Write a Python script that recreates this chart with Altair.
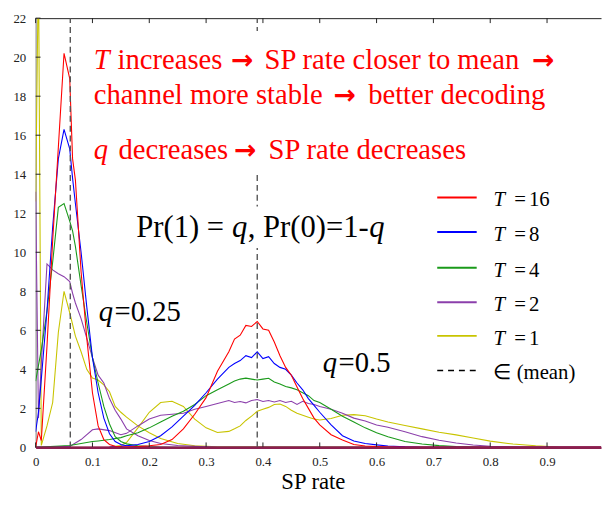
import altair as alt
import pandas as pd

# ---------------- data ----------------
T_LABELS = ["16", "8", "4", "2", "1"]
COLORS = ["#ff0000", "#0000ff", "#1a9a1a", "#8b3fab", "#c8c400"]

X_TICKS = [0, 0.1, 0.2, 0.3, 0.4, 0.5, 0.6, 0.7, 0.8, 0.9]
Y_TICKS = [0, 2, 4, 6, 8, 10, 12, 14, 16, 18, 20, 22]
MEANS = [0.061, 0.39]

# q = 0.25 curves
X25 = [0, 0.005, 0.01, 0.02, 0.03, 0.04, 0.05, 0.06, 0.065, 0.07, 0.08, 0.09, 0.10,
       0.11, 0.12, 0.13, 0.14, 0.15, 0.16, 0.18, 0.20, 0.22, 0.25, 0.28, 0.32, 1.0]
RED25 = [0, 0.8, 0.35, 5.2, 10.6, 15.4, 20.2, 18.9, 14.8, 13.7, 9.0, 5.6, 2.8,
         1.1, 0.4, 0.15, 0.06, 0.03, 0.02, 0, 0, 0, 0, 0, 0, 0]
BLUE25 = [0.8, 1.8, 3.5, 7.0, 11.3, 14.8, 16.3, 15.3, 13.8, 12.5, 10.0, 7.2, 4.6,
          2.8, 1.5, 0.7, 0.3, 0.15, 0.08, 0.03, 0.01, 0, 0, 0, 0, 0]
GREEN25 = [3.4, 4.2, 5.0, 7.0, 9.5, 12.3, 12.5, 11.6, 11.1, 10.3, 8.3, 6.4, 4.6,
           3.3, 2.1, 1.2, 0.55, 0.3, 0.18, 0.08, 0.04, 0.02, 0, 0, 0, 0]
PURPLE25 = [13.1, 1.5, 4.3, 9.4, 9.1, 8.9, 8.75, 8.5, 7.9, 7.4, 6.6, 5.6, 4.6,
            3.7, 3.3, 2.5, 1.9, 1.45, 0.95, 0.6, 0.35, 0.2, 0.1, 0.05, 0, 0]
YELLOW25 = [12.6, 25.0, 0.1, 1.1, 2.3, 5.9, 8.0, 6.9, 6.3, 5.7, 4.9, 4.0, 3.55,
            3.45, 3.2, 2.85, 2.1, 1.8, 1.55, 1.1, 0.75, 0.45, 0.2, 0.08, 0.03, 0]

# q = 0.5 curves
X50 = [0, 0.06, 0.08, 0.10, 0.11, 0.13, 0.15, 0.16, 0.18, 0.20,
       0.22, 0.24, 0.26, 0.28, 0.30, 0.32, 0.34, 0.35, 0.36, 0.37,
       0.38, 0.39, 0.40, 0.41, 0.42, 0.43, 0.44, 0.45, 0.46, 0.47,
       0.48, 0.49, 0.50, 0.52, 0.54, 0.56, 0.58, 0.60, 0.62, 0.65,
       0.68, 0.71, 0.74, 0.77, 0.80, 0.84, 0.88, 0.92, 1.0]
RED50 = [0, 0, 0, 0, 0, 0, 0.01, 0.02, 0.04, 0.08,
         0.15, 0.4, 0.95, 1.7, 2.55, 3.9, 4.9, 5.55, 5.75, 6.25,
         6.2, 6.45, 6.07, 6.0, 5.4, 4.7, 4.1, 3.7, 3.1, 2.5,
         2.0, 1.5, 1.15, 0.65, 0.38, 0.15, 0.07, 0.04, 0.02, 0,
         0, 0, 0, 0, 0, 0, 0, 0, 0]
BLUE50 = [0, 0, 0, 0, 0.01, 0.02, 0.05, 0.08, 0.15, 0.3,
          0.6, 1.05, 1.6, 2.15, 2.8, 3.5, 4.1, 4.3, 4.45, 4.7,
          4.6, 4.9, 4.55, 4.65, 4.3, 4.1, 4.0, 3.7, 3.3, 2.95,
          2.5, 2.15, 1.8, 1.15, 0.6, 0.33, 0.2, 0.13, 0.07, 0.03,
          0.01, 0, 0, 0, 0, 0, 0, 0, 0]
GREEN50 = [0, 0.1, 0.2, 0.3, 0.33, 0.4, 0.5, 0.6, 0.75, 1.0,
           1.3, 1.6, 1.85, 2.2, 2.65, 2.95, 3.25, 3.4, 3.5, 3.55,
           3.5, 3.45, 3.5, 3.54, 3.35, 3.25, 3.12, 3.05, 2.95, 2.8,
           2.65, 2.4, 2.3, 1.95, 1.6, 1.3, 1.0, 0.75, 0.55, 0.3,
           0.17, 0.09, 0.04, 0.02, 0, 0, 0, 0, 0]
PURPLE50 = [0, 0.05, 0.4, 0.9, 0.95, 0.86, 0.65, 0.72, 1.1, 1.45,
            1.65, 1.7, 1.75, 1.95, 2.1, 2.25, 2.4, 2.3, 2.35, 2.28,
            2.4, 2.45, 2.35, 2.4, 2.33, 2.4, 2.3, 2.36, 2.2, 2.36,
            2.25, 2.2, 2.1, 1.95, 1.75, 1.5, 1.35, 1.15, 1.03, 0.8,
            0.55, 0.37, 0.22, 0.12, 0.06, 0.02, 0, 0, 0]
YELLOW50 = [0, 0, 0, 0, 0, 0.02, 0.1, 0.25, 1.0, 1.8,
            2.3, 2.36, 2.1, 1.45, 1.0, 0.76, 0.82, 0.95, 1.1, 1.38,
            1.6, 1.85, 1.95, 2.05, 2.2, 2.22, 2.1, 1.9, 1.75, 1.65,
            1.55, 1.45, 1.4, 1.48, 1.65, 1.68, 1.62, 1.45, 1.3, 1.12,
            0.95, 0.78, 0.64, 0.48, 0.32, 0.17, 0.08, 0.02, 0]

CURVES25 = [RED25, BLUE25, GREEN25, PURPLE25, YELLOW25]
CURVES50 = [RED50, BLUE50, GREEN50, PURPLE50, YELLOW50]

# ---------------- build table ----------------
rows = []
for i in reversed(range(5)):          # yellow first, red last (on top)
    for q, xs, ys in (("0.25", X25, CURVES25[i]), ("0.5", X50, CURVES50[i])):
        for xv, yv in zip(xs, ys):
            rows.append({"x": xv, "y": yv, "T": T_LABELS[i], "series": f"{i}-{q}"})
df = pd.DataFrame(rows)

SERIF = "Liberation Serif"
W, H = 573, 435
xscale = alt.Scale(domain=[0, 0.995], nice=False, zero=False)
yscale = alt.Scale(domain=[0, 22], nice=False)

xax = alt.Axis(values=X_TICKS, labelExpr="datum.value == 0 ? '0' : format(datum.value, '.1f')",
               ticks=False, domain=True, domainColor="#8b1f4f", domainWidth=2.5, zindex=1,
               grid=False, labelFont=SERIF, labelFontSize=13, labelColor="#222",
               labelPadding=8, labelFlush=False, title="SP rate", titleFont=SERIF,
               titleFontSize=23, titleFontWeight="normal", titleColor="#000",
               titleBaseline="alphabetic", titleY=42, titleX=281)
xtop = alt.Axis(orient="top", labels=False, ticks=False, title=None, domain=True,
                domainColor="#222", grid=False)
yax = alt.Axis(values=Y_TICKS, ticks=False, domain=True, domainColor="#777", grid=False,
               labelFont=SERIF, labelFontSize=13, labelColor="#222", labelPadding=10,
               labelFlush=False, title=None)

curves = alt.Chart(df).mark_line(strokeWidth=1.1, clip=True).encode(
    x=alt.X("x:Q", scale=xscale, axis=xax),
    y=alt.Y("y:Q", scale=yscale, axis=yax),
    color=alt.Color("T:N", scale=alt.Scale(domain=T_LABELS, range=COLORS), legend=None),
    detail="series:N",
)

mean_df = pd.DataFrame({"m": MEANS, "y0": [0, 0], "y1": [22, 22]})
means = alt.Chart(mean_df).mark_rule(color="#555", strokeDash=[6, 4], strokeWidth=1.4).encode(
    x=alt.X("m:Q", scale=xscale, axis=None),
    y=alt.Y("y0:Q", scale=yscale, axis=yax),
    y2="y1:Q",
)

xt = pd.DataFrame({"t": X_TICKS})
yt = pd.DataFrame({"t": Y_TICKS})
bottom_ticks = alt.Chart(xt).mark_rule(color="#222").encode(
    x=alt.X("t:Q", scale=xscale, axis=None), y=alt.value(H), y2=alt.value(H - 5))
top_ticks = alt.Chart(xt).mark_rule(color="#222").encode(
    x=alt.X("t:Q", scale=xscale, axis=xtop), y=alt.value(0), y2=alt.value(5))
left_ticks = alt.Chart(yt).mark_rule(color="#222").encode(
    y=alt.Y("t:Q", scale=yscale, axis=yax), x=alt.value(0), x2=alt.value(5))

one = pd.DataFrame({"a": [0]})


def box(x1, x2, y1, y2):
    return alt.Chart(one).mark_rect(color="white").encode(
        x=alt.value(x1), x2=alt.value(x2), y=alt.value(y1), y2=alt.value(y2))


def txt(s, x, y, size, color="#000", style="normal", font=SERIF, weight="normal"):
    return alt.Chart(one).mark_text(
        text=s, align="left", baseline="alphabetic", font=font, fontSize=size,
        fontStyle=style, fontWeight=weight, color=color).encode(
        x=alt.value(x), y=alt.value(y))


RED = "#ff0000"
ARROW = "\u2192"
AF = "DejaVu Sans"
texts = [
    txt("T", 59, 51.5, 29, RED, "italic"),
    txt("increases", 83, 51.5, 29, RED),
    txt(ARROW, 198, 51.5, 27, RED, font=AF, weight="bold"),
    txt("SP rate closer to mean", 232, 51.5, 29, RED),
    txt(ARROW, 503, 51.5, 27, RED, font=AF, weight="bold"),
    txt("channel more stable", 59, 86.5, 29, RED),
    txt(ARROW, 302, 86.5, 27, RED, font=AF, weight="bold"),
    txt("better decoding", 337, 86.5, 29, RED),
    txt("q", 59, 143, 29, RED, "italic"),
    txt("decreases", 84, 143, 29, RED),
    txt(ARROW, 201, 143, 27, RED, font=AF, weight="bold"),
    txt("SP rate decreases", 236, 143, 29, RED),
    txt("Pr(1) = ", 102, 222, 31),
    txt("q", 199, 222, 31, style="italic"),
    txt(", Pr(0)=1-", 215, 222, 31),
    txt("q", 338, 222, 31, style="italic"),
    txt("q", 64, 307, 29, style="italic"),
    txt("=0.25", 80, 307, 29),
    txt("q", 291, 359, 29, style="italic"),
    txt("=0.5", 307, 359, 29),
]

legend_rows = [181.7, 216.7, 253, 288, 322, 357]
legend_layers = []
for i, lab in enumerate(T_LABELS):
    yy = legend_rows[i]
    legend_layers.append(alt.Chart(one).mark_rule(color=COLORS[i], strokeWidth=2).encode(
        x=alt.value(407), x2=alt.value(447), y=alt.value(yy)))
    legend_layers.append(txt("T", 464, yy + 9, 21, style="italic"))
    legend_layers.append(txt("=", 485, yy + 9, 21))
    legend_layers.append(txt(lab, 500, yy + 9, 21))
legend_layers.append(alt.Chart(one).mark_rule(color="#000", strokeWidth=1.5, strokeDash=[6, 5]).encode(
    x=alt.value(407), x2=alt.value(447), y=alt.value(legend_rows[5])))
legend_layers.append(txt("\u2208 (mean)", 464, legend_rows[5] + 9, 21))

chart = alt.layer(
    curves, means, box(54, 544, 13, 155), box(97, 375, 191, 233),
    bottom_ticks, top_ticks, left_ticks, *texts, *legend_layers,
).resolve_axis(x="independent").properties(
    width=W, height=H,
    padding={"left": 28, "top": 7, "right": 2, "bottom": 47},
    autosize=alt.AutoSizeParams(type="none"),
).configure_view(stroke=None).configure_axis(labelFont=SERIF, titleFont=SERIF)

chart.save("out.html", embed_options={"renderer": "svg", "actions": False})
